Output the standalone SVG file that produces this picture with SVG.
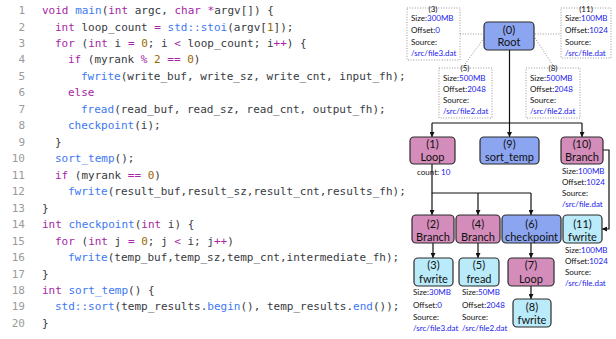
<svg xmlns="http://www.w3.org/2000/svg" width="616" height="339" viewBox="0 0 616 339">
<style>
.code{font-family:"DejaVu Sans Mono",monospace;font-size:11px;fill:#383a42}
.ln{font-family:"DejaVu Sans Mono",monospace;font-size:11px;fill:#9a9a9a;text-anchor:end}
.k{fill:#a626a4}
.f{fill:#4078f2}
.n{fill:#986801}
.node rect{stroke:#2b2b2b;stroke-width:1.2}
.pink{fill:#d48cba}
.blue{fill:#8ca5f0}
.cyan{fill:#b9ebfa}
.lbl{font-family:Lato,"Open Sans",sans-serif;font-size:11px;fill:#111;text-anchor:middle}
.sm{font-family:Lato,"Open Sans",sans-serif;font-size:8px;fill:#111}
.smc{font-family:Lato,"Open Sans",sans-serif;font-size:8px;fill:#111;text-anchor:middle}
.v{fill:#1a1aee}
.dbox{fill:none;stroke:#8a8a8a;stroke-width:0.9;stroke-dasharray:1,1.6}
.dl{fill:none;stroke:#8a8a8a;stroke-width:0.9;stroke-dasharray:1,1.6}
.c{fill:none;stroke:#111;stroke-width:1.2}
</style>
<defs>
<marker id="ah" viewBox="0 0 10 10" refX="10" refY="5" markerWidth="5" markerHeight="5" markerUnits="userSpaceOnUse" orient="auto">
<path d="M0,0 L10,5 L0,10 z" fill="#111"/>
</marker>
</defs>
<rect width="616" height="339" fill="#ffffff"/>

<g id="code">
<text class="ln" x="25" y="14">1</text>
<text class="ln" x="25" y="30.5">2</text>
<text class="ln" x="25" y="47">3</text>
<text class="ln" x="25" y="63.4">4</text>
<text class="ln" x="25" y="79.9">5</text>
<text class="ln" x="25" y="96.4">6</text>
<text class="ln" x="25" y="112.8">7</text>
<text class="ln" x="25" y="129.3">8</text>
<text class="ln" x="25" y="145.8">9</text>
<text class="ln" x="25" y="162.2">10</text>
<text class="ln" x="25" y="178.7">11</text>
<text class="ln" x="25" y="195.2">12</text>
<text class="ln" x="25" y="211.6">13</text>
<text class="ln" x="25" y="228.1">14</text>
<text class="ln" x="25" y="244.6">15</text>
<text class="ln" x="25" y="261">16</text>
<text class="ln" x="25" y="277.5">17</text>
<text class="ln" x="25" y="294">18</text>
<text class="ln" x="25" y="310.4">19</text>
<text class="ln" x="25" y="326.9">20</text>

<text class="code" x="42" y="14" xml:space="preserve"><tspan class="k">void</tspan> <tspan class="f">main</tspan>(<tspan class="k">int</tspan> argc, <tspan class="k">char</tspan> <tspan class="k">*</tspan>argv[]) {</text>
<text class="code" x="55" y="30.5" xml:space="preserve"><tspan class="k">int</tspan> loop_count <tspan class="k">=</tspan> <tspan class="f">std::stoi</tspan>(argv[<tspan class="n">1</tspan>]);</text>
<text class="code" x="55" y="47" xml:space="preserve"><tspan class="k">for</tspan> (<tspan class="k">int</tspan> i <tspan class="k">=</tspan> <tspan class="n">0</tspan>; i <tspan class="k">&lt;</tspan> loop_count; i<tspan class="k">++</tspan>) {</text>
<text class="code" x="68" y="63.4" xml:space="preserve"><tspan class="k">if</tspan> (myrank <tspan class="k">%</tspan> <tspan class="n">2</tspan> <tspan class="k">==</tspan> <tspan class="n">0</tspan>)</text>
<text class="code" x="81" y="79.9" xml:space="preserve"><tspan class="f">fwrite</tspan>(write_buf, write_sz, write_cnt, input_fh);</text>
<text class="code" x="68" y="96.4" xml:space="preserve"><tspan class="k">else</tspan></text>
<text class="code" x="81" y="112.8" xml:space="preserve"><tspan class="f">fread</tspan>(read_buf, read_sz, read_cnt, output_fh);</text>
<text class="code" x="68" y="129.3" xml:space="preserve"><tspan class="f">checkpoint</tspan>(i);</text>
<text class="code" x="55" y="145.8" xml:space="preserve">}</text>
<text class="code" x="55" y="162.2" xml:space="preserve"><tspan class="f">sort_temp</tspan>();</text>
<text class="code" x="55" y="178.7" xml:space="preserve"><tspan class="k">if</tspan> (myrank <tspan class="k">==</tspan> <tspan class="n">0</tspan>)</text>
<text class="code" x="68" y="195.2" xml:space="preserve"><tspan class="f">fwrite</tspan>(result_buf,result_sz,result_cnt,results_fh);</text>
<text class="code" x="42" y="211.6" xml:space="preserve">}</text>
<text class="code" x="42" y="228.1" xml:space="preserve"><tspan class="k">int</tspan> <tspan class="f">checkpoint</tspan>(<tspan class="k">int</tspan> i) {</text>
<text class="code" x="55" y="244.6" xml:space="preserve"><tspan class="k">for</tspan> (<tspan class="k">int</tspan> j <tspan class="k">=</tspan> <tspan class="n">0</tspan>; j <tspan class="k">&lt;</tspan> i; j<tspan class="k">++</tspan>)</text>
<text class="code" x="68" y="261" xml:space="preserve"><tspan class="f">fwrite</tspan>(temp_buf,temp_sz,temp_cnt,intermediate_fh);</text>
<text class="code" x="42" y="277.5" xml:space="preserve">}</text>
<text class="code" x="42" y="294" xml:space="preserve"><tspan class="k">int</tspan> <tspan class="f">sort_temp</tspan>() {</text>
<text class="code" x="55" y="310.4" xml:space="preserve"><tspan class="f">std::sort</tspan>(temp_results.<tspan class="f">begin</tspan>(), temp_results.<tspan class="f">end</tspan>());</text>
<text class="code" x="42" y="326.9" xml:space="preserve">}</text>
</g>

<g id="connectors">
<path class="dl" d="M460,34 H484"/>
<path class="dl" d="M484,38 L463,67"/>
<path class="dl" d="M535,34 H561"/>
<path class="dl" d="M535,38 L554,67"/>
<path class="c" d="M509.5,50 V123"/>
<path class="c" d="M432,123 H582"/>
<path class="c" d="M432,123 V137" marker-end="url(#ah)"/>
<path class="c" d="M509.5,123 V137" marker-end="url(#ah)"/>
<path class="c" d="M582,123 V137" marker-end="url(#ah)"/>
<path class="c" d="M432,164 V193 H531"/>
<path class="c" d="M432,193 V215" marker-end="url(#ah)"/>
<path class="c" d="M478,193 V215" marker-end="url(#ah)"/>
<path class="c" d="M531,193 V215" marker-end="url(#ah)"/>
<path class="c" d="M603,150 H609 V229 H602" marker-end="url(#ah)"/>
<path class="c" d="M433,243 V258" marker-end="url(#ah)"/>
<path class="c" d="M478,243 V258" marker-end="url(#ah)"/>
<path class="c" d="M531,243 V258" marker-end="url(#ah)"/>
<path class="c" d="M531,286 V299" marker-end="url(#ah)"/>
</g>

<g id="info3">
<rect class="dbox" x="407" y="8" width="53" height="52"/>
<text class="smc" x="433" y="11.5">(3)</text>
<text class="sm" x="411" y="21">Size:<tspan class="v">300MB</tspan></text>
<text class="sm" x="411" y="33">Offset:<tspan class="v">0</tspan></text>
<text class="sm" x="411" y="45">Source:</text>
<text class="sm v" x="411" y="56">/src/file3.dat</text>
</g>
<g id="info11">
<rect class="dbox" x="561" y="8" width="50" height="50"/>
<text class="smc" x="586" y="11.5">(11)</text>
<text class="sm" x="565" y="21">Size:<tspan class="v">100MB</tspan></text>
<text class="sm" x="565" y="33">Offset:<tspan class="v">1024</tspan></text>
<text class="sm" x="565" y="45">Source:</text>
<text class="sm v" x="565" y="56">/src/file.dat</text>
</g>
<g id="info5">
<rect class="dbox" x="439" y="68" width="53" height="50"/>
<text class="smc" x="465" y="70.5">(5)</text>
<text class="sm" x="443" y="80.5">Size:<tspan class="v">500MB</tspan></text>
<text class="sm" x="443" y="91.5">Offset:<tspan class="v">2048</tspan></text>
<text class="sm" x="443" y="102.5">Source:</text>
<text class="sm v" x="443" y="113.5">/src/file2.dat</text>
</g>
<g id="info8">
<rect class="dbox" x="526" y="68" width="54" height="50"/>
<text class="smc" x="553" y="70.5">(8)</text>
<text class="sm" x="530" y="81">Size:<tspan class="v">500MB</tspan></text>
<text class="sm" x="530" y="92">Offset:<tspan class="v">2048</tspan></text>
<text class="sm" x="530" y="103">Source:</text>
<text class="sm v" x="530" y="114">/src/file2.dat</text>
</g>

<g id="n0" class="node">
<rect class="blue" x="484" y="22" width="50" height="28" rx="4"/>
<text class="lbl" x="509" y="34">(0)</text>
<text class="lbl" x="509" y="46">Root</text>
</g>
<g id="n1" class="node">
<rect class="pink" x="410" y="137" width="45" height="27" rx="4"/>
<text class="lbl" x="432.5" y="147.5">(1)</text>
<text class="lbl" x="432.5" y="161">Loop</text>
<text class="sm" x="417" y="175">count: <tspan class="v">10</tspan></text>
</g>
<g id="n9" class="node">
<rect class="blue" x="480" y="137" width="59" height="27" rx="4"/>
<text class="lbl" x="509.5" y="147.5">(9)</text>
<text class="lbl" x="509.5" y="161">sort_temp</text>
</g>
<g id="n10" class="node">
<rect class="pink" x="561" y="137" width="42" height="27" rx="4"/>
<text class="lbl" x="582" y="147.5">(10)</text>
<text class="lbl" x="582" y="161">Branch</text>
<text class="sm" x="562" y="174">Size:<tspan class="v">100MB</tspan></text>
<text class="sm" x="562" y="185">Offset:<tspan class="v">1024</tspan></text>
<text class="sm" x="562" y="196">Source:</text>
<text class="sm v" x="562" y="207">/src/file.dat</text>
</g>
<g id="n2" class="node">
<rect class="pink" x="412" y="215" width="42" height="28" rx="4"/>
<text class="lbl" x="433" y="228">(2)</text>
<text class="lbl" x="433" y="241">Branch</text>
</g>
<g id="n4" class="node">
<rect class="pink" x="456" y="215" width="44" height="28" rx="4"/>
<text class="lbl" x="478" y="228">(4)</text>
<text class="lbl" x="478" y="241">Branch</text>
</g>
<g id="n6" class="node">
<rect class="blue" x="502" y="215" width="59" height="28" rx="4"/>
<text class="lbl" x="531.5" y="228">(6)</text>
<text class="lbl" x="531.5" y="241">checkpoint</text>
</g>
<g id="n11" class="node">
<rect class="cyan" x="563" y="215" width="39" height="28" rx="4"/>
<text class="lbl" x="582.5" y="228">(11)</text>
<text class="lbl" x="582.5" y="241">fwrite</text>
<text class="sm" x="565" y="253">Size:<tspan class="v">100MB</tspan></text>
<text class="sm" x="565" y="264">Offset:<tspan class="v">1024</tspan></text>
<text class="sm" x="565" y="275">Source:</text>
<text class="sm v" x="565" y="286">/src/file.dat</text>
</g>
<g id="n3" class="node">
<rect class="cyan" x="414" y="258" width="39" height="28" rx="4"/>
<text class="lbl" x="433.5" y="268.5">(3)</text>
<text class="lbl" x="433.5" y="282.5">fwrite</text>
<text class="sm" x="413" y="295">Size:<tspan class="v">30MB</tspan></text>
<text class="sm" x="413" y="307.5">Offset:<tspan class="v">0</tspan></text>
<text class="sm" x="413" y="319.5">Source:</text>
<text class="sm v" x="413" y="331">/src/file3.dat</text>
</g>
<g id="n5" class="node">
<rect class="cyan" x="459" y="258" width="40" height="28" rx="4"/>
<text class="lbl" x="479" y="268.5">(5)</text>
<text class="lbl" x="479" y="282.5">fread</text>
<text class="sm" x="462" y="295">Size:<tspan class="v">50MB</tspan></text>
<text class="sm" x="462" y="307.5">Offset:<tspan class="v">2048</tspan></text>
<text class="sm" x="462" y="319.5">Source:</text>
<text class="sm v" x="462" y="331">/src/file2.dat</text>
</g>
<g id="n7" class="node">
<rect class="pink" x="508" y="258" width="46" height="28" rx="4"/>
<text class="lbl" x="531" y="268.5">(7)</text>
<text class="lbl" x="531" y="282.5">Loop</text>
</g>
<g id="n8" class="node">
<rect class="cyan" x="513" y="299" width="38" height="28" rx="4"/>
<text class="lbl" x="532" y="310.5">(8)</text>
<text class="lbl" x="532" y="324">fwrite</text>
</g>
</svg>
